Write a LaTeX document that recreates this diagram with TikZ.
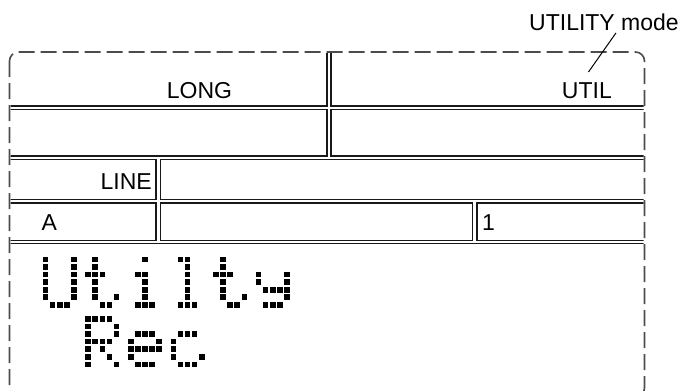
\documentclass[tikz,border=0pt]{standalone}
\usepackage{fontspec}
\setmainfont{Liberation Sans}

% 5x7 dot-matrix glyphs as column/row pairs
\newcommand\glyphU{0/0,4/0,0/1,4/1,0/2,4/2,0/3,4/3,0/4,4/4,0/5,4/5,1/6,2/6,3/6}
\newcommand\glypht{1/0,1/1,0/2,1/2,2/2,1/3,1/4,1/5,4/5,2/6,3/6}
\newcommand\glyphi{2/0,1/2,2/2,2/3,2/4,2/5,1/6,2/6,3/6}
\newcommand\glyphl{1/0,2/0,2/1,2/2,2/3,2/4,2/5,1/6,2/6,3/6}
\newcommand\glyphy{0/2,4/2,0/3,4/3,1/4,2/4,3/4,4/4,4/5,1/6,2/6,3/6}
\newcommand\glyphR{0/0,1/0,2/0,3/0,0/1,4/1,0/2,4/2,0/3,1/3,2/3,3/3,0/4,2/4,0/5,3/5,0/6,4/6}
\newcommand\glyphe{1/2,2/2,3/2,0/3,4/3,0/4,1/4,2/4,3/4,4/4,0/5,1/6,2/6,3/6}
\newcommand\glyphc{1/2,2/2,3/2,0/3,0/4,0/5,4/5,1/6,2/6,3/6}

% #1 glyph, #2 character position, #3 display line
\newcommand\lcdchar[3]{%
  \foreach \dc/\dr in #1
    \fill[lcddot] ({45.5+(6*#2+\dc)*7.1-2.8},{259.5+#3*59.5+\dr*7.55-2.8})
      rectangle +(5.6,5.6);
}

\begin{document}
\begin{tikzpicture}[
    x=1pt,y=-1pt,
    cellline/.style={draw=black!90,line width=1.2pt},
    frameline/.style={draw=black!70,line width=1.6pt,
        dash pattern=on 16pt off 6pt,rounded corners=9pt},
    lbl/.style={font=\fontsize{23}{27}\selectfont,inner sep=0pt},
    lcddot/.style={fill=black}
]
\clip (0,0) rectangle (686,391);

% display cells; their outer sides are left to the dashed frame
\begin{scope}
\clip[rounded corners=9pt] (10.5,53) rectangle (643.5,396);
\draw[cellline] (9.5,52) rectangle (327,106);
\draw[cellline] (331,52) rectangle (644.5,106);
\draw[cellline] (9.5,109.5) rectangle (327,156);
\draw[cellline] (331,109.5) rectangle (644.5,156);
\draw[cellline] (9.5,159.5) rectangle (156,199.5);
\draw[cellline] (160.5,159.5) rectangle (644.5,199.5);
\draw[cellline] (9.5,203) rectangle (156,240.5);
\draw[cellline] (160.5,203) rectangle (472.5,240.5);
\draw[cellline] (477,203) rectangle (644.5,240.5);
\draw[cellline] (9.5,243.5) rectangle (644.5,397);
\end{scope}
\draw[frameline] (9.5,52) rectangle (644.5,397);

\node[lbl,anchor=base] (longtxt) at (199.5,98.3) {LONG};
\node[lbl,anchor=base east] (utiltxt) at (612,98.3) {UTIL};
\node[lbl,anchor=base east] (linetxt) at (152,189) {LINE};
\node[lbl,anchor=base west] (atxt) at (41.5,230) {A};
\node[lbl,anchor=base west] (onetxt) at (482,230) {1};

\node[lbl,anchor=base west] (modetxt) at (529,30.5) {UTILITY mode};
\coordinate (utiltip) at (588.5,72);
\draw[line width=1pt] ([xshift=12pt,yshift=-2pt]modetxt.south) -- (utiltip);

% dot-matrix message
\lcdchar{\glyphU}{0}{0}
\lcdchar{\glypht}{1}{0}
\lcdchar{\glyphi}{2}{0}
\lcdchar{\glyphl}{3}{0}
\lcdchar{\glypht}{4}{0}
\lcdchar{\glyphy}{5}{0}
\lcdchar{\glyphR}{1}{1}
\lcdchar{\glyphe}{2}{1}
\lcdchar{\glyphc}{3}{1}
\end{tikzpicture}
\end{document}
